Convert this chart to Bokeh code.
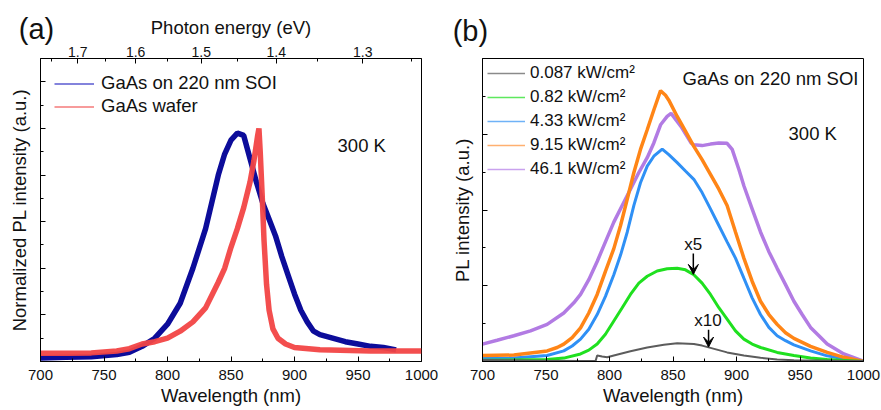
from bokeh.plotting import figure
from bokeh.layouts import row
from bokeh.models import (LinearAxis, FixedTicker, CustomJSTickFormatter, Legend,
                          LegendItem, Label, Arrow, VeeHead, Range1d)
from bokeh.embed import file_html
from bokeh.resources import INLINE

FONT = "Liberation Sans"
TXT = "#111111"

# ---------------- panel (a) data ----------------
soi_wl = [700, 720, 740, 760, 770, 780, 790, 800, 810, 820, 830, 840, 845, 850, 855, 860,
          865, 870, 875, 880, 885, 890, 895, 900, 905, 910, 915, 920, 930, 940, 950, 960, 970, 980]
soi_int = [0.015, 0.018, 0.02, 0.03, 0.04, 0.065, 0.1, 0.16, 0.25, 0.40, 0.57, 0.80, 0.89, 0.95,
           0.98, 0.97, 0.87, 0.77, 0.68, 0.61, 0.54, 0.45, 0.37, 0.29, 0.22, 0.17, 0.13, 0.115,
           0.10, 0.085, 0.075, 0.065, 0.06, 0.05]
wafer_wl = [700, 720, 740, 760, 770, 780, 790, 800, 810, 820, 825, 830, 840, 845, 850, 855, 860,
            865, 868, 871, 872, 873, 874.5, 876, 878, 880, 883, 887, 893, 900, 920, 960, 1000]
wafer_int = [0.035, 0.035, 0.037, 0.045, 0.055, 0.075, 0.085, 0.10, 0.13, 0.17, 0.20, 0.23, 0.34,
             0.40, 0.49, 0.57, 0.66, 0.77, 0.86, 0.97, 1.0, 0.9, 0.72, 0.52, 0.33, 0.22, 0.14,
             0.10, 0.075, 0.06, 0.05, 0.045, 0.045]
energy_ticks = [1.7, 1.6, 1.5, 1.4, 1.3]
energy_minor = [1.75, 1.65, 1.55, 1.45, 1.35, 1.25]
wl_ticks = [700, 750, 800, 850, 900, 950, 1000]
wl_minor = [725, 775, 825, 875, 925, 975]

# ---------------- panel (b) data ----------------
p087_wl = [700, 724.7, 750.9, 777.2, 789, 790.3, 794.2, 798.2, 803.4, 816.5, 829.7, 842.8, 853.3,
           866.4, 872.9, 879.5, 892.6, 905.8, 918.9, 932, 945.2, 1000]
p087_int = [0.04, 0.03, 0.02, 0.01, 0.01, 0.16, 0.13, 0.11, 0.16, 0.27, 0.37, 0.44, 0.48,
            0.46, 0.42, 0.36, 0.24, 0.16, 0.10, 0.05, 0.03, 0.01]
p082_wl = [700, 750.9, 764, 777.2, 783.7, 790.3, 796.8, 803.4, 810, 816.5, 823.1, 829.7, 837.5,
           845.4, 853.3, 859.8, 866.4, 872.9, 879.5, 886.1, 892.6, 899.2, 905.8, 912.3, 918.9,
           932, 945.2, 958.3, 971.4, 1000]
p082_int = [0.03, 0.05, 0.09, 0.20, 0.30, 0.46, 0.72, 1.07, 1.42, 1.77, 2.07, 2.25, 2.39,
            2.45, 2.46, 2.42, 2.29, 2.07, 1.77, 1.42, 1.12, 0.81, 0.59, 0.46, 0.37,
            0.24, 0.16, 0.09, 0.05, 0.0]
p433_wl = [700, 724.7, 750.9, 764, 770.6, 777.2, 783.7, 790.3, 796.8, 803.4, 808.7, 814, 819.2,
           824.4, 829.7, 834.9, 841.5, 846.7, 853.3, 859.8, 866.4, 872.9, 879.5, 886.1, 892.6,
           899.2, 905.8, 912.3, 918.9, 925.5, 932, 938.6, 945.2, 958.3, 971.4, 984.5, 1000]
p433_int = [0.08, 0.09, 0.16, 0.28, 0.41, 0.59, 0.85, 1.24, 1.72, 2.29, 2.81, 3.42, 4.12,
            4.72, 5.16, 5.42, 5.61, 5.46, 5.25, 5.03, 4.81, 4.46, 4.03, 3.59, 3.16,
            2.73, 2.20, 1.68, 1.24, 0.90, 0.68, 0.55, 0.44, 0.28, 0.15, 0.07, 0.0]
p915_wl = [700, 724.7, 750.9, 758.8, 764, 770.6, 777.2, 783.7, 790.3, 796.8, 803.4, 808.7, 814,
           819.2, 824.4, 829.7, 834.9, 840.2, 844.1, 846.7, 853.3, 859.8, 866.4, 872.9, 879.5,
           886.1, 892.6, 899.2, 905.8, 912.3, 918.9, 925.5, 932, 938.6, 945.2, 958.3, 971.4,
           984.5, 1000]
p915_int = [0.16, 0.17, 0.28, 0.37, 0.46, 0.63, 0.89, 1.28, 1.77, 2.38, 2.98, 3.59, 4.29,
            4.99, 5.60, 6.12, 6.64, 7.15, 7.03, 6.90, 6.47, 6.08, 5.68, 5.33, 4.94,
            4.55, 4.12, 3.42, 2.73, 2.12, 1.59, 1.24, 0.98, 0.76, 0.61, 0.40, 0.24,
            0.11, 0.0]
p461_wl = [700, 711.5, 724.7, 737.8, 750.9, 764, 771.9, 777.2, 783.7, 790.3, 796.8, 803.4, 810,
           816.5, 823.1, 829.7, 834.9, 840.2, 845.4, 848.5, 856.4, 864.2, 866.4, 872.9, 879.5,
           886.1, 892.6, 896.6, 901.9, 905.8, 912.3, 918.9, 925.5, 932, 938.6, 945.2, 951.7,
           958.3, 964.9, 971.4, 984.5, 1000]
p461_int = [0.46, 0.56, 0.68, 0.81, 0.98, 1.28, 1.55, 1.77, 2.16, 2.64, 3.16, 3.68, 4.12,
            4.55, 4.99, 5.38, 5.77, 6.25, 6.47, 6.55, 6.20, 5.77, 5.72, 5.70, 5.74,
            5.77, 5.76, 5.60, 5.07, 4.64, 4.03, 3.42, 2.90, 2.46, 2.03, 1.59, 1.24,
            0.90, 0.68, 0.46, 0.20, 0.01]
power_labels = ["0.087 kW/cm²", "0.82 kW/cm²", "4.33 kW/cm²", "9.15 kW/cm²", "46.1 kW/cm²"]

NBSP = "\u00a0"


def base_style(p):
    p.xgrid.visible = False
    p.ygrid.visible = False
    p.outline_line_color = "black"
    p.outline_line_width = 1
    p.background_fill_color = "white"
    p.border_fill_color = "white"
    for ax in p.axis:
        ax.axis_line_color = "black"
        ax.major_tick_in = 5
        ax.major_tick_out = 0
        ax.minor_tick_in = 3
        ax.minor_tick_out = 0
        ax.major_tick_line_color = "black"
        ax.minor_tick_line_color = "black"
        ax.major_label_text_font = FONT
        ax.major_label_text_font_size = "15px"
        ax.major_label_text_color = TXT
        ax.axis_label_text_font = FONT
        ax.axis_label_text_font_size = "18.5px"
        ax.axis_label_text_font_style = "normal"
        ax.axis_label_text_color = TXT


def panel_letter_axis(text, standoff):
    ax = LinearAxis(ticker=FixedTicker(ticks=[700], minor_ticks=[]),
                    formatter=CustomJSTickFormatter(code="return %r;" % text))
    ax.axis_line_color = None
    ax.major_tick_line_color = None
    ax.minor_tick_line_color = None
    ax.major_tick_in = 0
    ax.major_tick_out = 0
    ax.major_label_standoff = standoff
    ax.major_label_text_font = FONT
    ax.major_label_text_font_size = "29px"
    ax.major_label_text_color = TXT
    return ax


blank = CustomJSTickFormatter(code="return '';")

# ================= panel (a) =================
pa = figure(width=440, height=410, x_range=Range1d(700, 1000), y_range=Range1d(0, 1.3),
            output_backend="svg", toolbar_location=None,
            min_border_left=40, min_border_right=19, min_border_top=58, min_border_bottom=47,
            x_axis_label="Wavelength (nm)", y_axis_label="Normalized PL intensity (a.u.)")
top = LinearAxis(axis_label="Photon energy (eV)",
                 ticker=FixedTicker(ticks=[1239.84 / e for e in energy_ticks],
                                    minor_ticks=[1239.84 / e for e in energy_minor]),
                 formatter=CustomJSTickFormatter(code="return (1239.84/tick).toFixed(1);"))
pa.add_layout(top, "above")
base_style(pa)
top.major_label_text_font_size = "14px"
top.major_label_standoff = 2
top.axis_label_standoff = 6
pa.add_layout(panel_letter_axis("(a)" + NBSP, -31), "above")

bot_a = pa.below[0]
bot_a.ticker = FixedTicker(ticks=wl_ticks, minor_ticks=wl_minor)
bot_a.major_label_standoff = 8
bot_a.axis_label_standoff = 2
pa.yaxis.ticker = FixedTicker(ticks=[0, 0.2, 0.4, 0.6, 0.8, 1.0, 1.2],
                              minor_ticks=[0.1, 0.3, 0.5, 0.7, 0.9, 1.1])
pa.yaxis.formatter = blank
pa.yaxis.major_label_standoff = 0
pa.yaxis.axis_label_standoff = 11

pa.line(soi_wl, soi_int, line_color="#0c0c9a", line_width=5.5)
pa.line(wafer_wl, wafer_int, line_color="#f24545", line_width=5.5, line_alpha=0.95)

la1 = pa.line([600, 610], [-1, -1], line_color="#5a5ad0", line_width=1.5)
la2 = pa.line([600, 610], [-1, -1], line_color="#f57a7a", line_width=1.5)
leg_a = Legend(items=[LegendItem(label="GaAs on 220 nm SOI", renderers=[la1]),
                      LegendItem(label="GaAs wafer", renderers=[la2])],
               location="top_left", margin=6, padding=8, spacing=1,
               glyph_width=40, glyph_height=21, label_height=21, label_standoff=7,
               label_text_font=FONT, label_text_font_size="18.5px", label_text_color=TXT,
               border_line_alpha=0, background_fill_alpha=0)
pa.add_layout(leg_a)
pa.add_layout(Label(x=933.9, y=0.928, text="300 K", text_font=FONT, text_font_size="18.5px",
                    text_color=TXT, text_baseline="middle", text_align="left"))

# ================= panel (b) =================
pb = figure(width=441, height=410, x_range=Range1d(700, 1000), y_range=Range1d(0, 8),
            output_backend="svg", toolbar_location=None,
            min_border_left=42, min_border_right=18, min_border_top=55, min_border_bottom=49,
            x_axis_label="Wavelength (nm)", y_axis_label="PL intensity (a.u.)")
base_style(pb)
bot_b = pb.below[0]
bot_b.ticker = FixedTicker(ticks=wl_ticks, minor_ticks=wl_minor)
bot_b.major_label_standoff = 8
bot_b.axis_label_standoff = 2
pb.add_layout(panel_letter_axis("(b)" + NBSP * 3, 12), "above")
pb.yaxis.ticker = FixedTicker(ticks=[0, 2, 4, 6, 8], minor_ticks=[1, 3, 5, 7])
pb.yaxis.formatter = blank
pb.yaxis.major_label_standoff = 0
pb.yaxis.axis_label_standoff = 10

pb.line(p461_wl, p461_int, line_color="#b27be3", line_width=3.5)
pb.line(p433_wl, p433_int, line_color="#2f90f5", line_width=3)
pb.line(p915_wl, p915_int, line_color="#ff8516", line_width=3.5)
pb.line(p082_wl, p082_int, line_color="#1fe01f", line_width=3)
pb.line(p087_wl, p087_int, line_color="#5c5c5c", line_width=2)

legend_colors = ["#8a8a8a", "#5ee85e", "#6fb2f7", "#ffb070", "#c9a2ee"]
items = []
for lab, col in zip(power_labels, legend_colors):
    r = pb.line([600, 610], [-1, -1], line_color=col, line_width=1.5)
    items.append(LegendItem(label=lab, renderers=[r]))
leg_b = Legend(items=items, location="top_left", margin=0, padding=5, spacing=4,
               glyph_width=38, glyph_height=20, label_height=20, label_standoff=5,
               label_text_font=FONT, label_text_font_size="17px", label_text_color=TXT,
               border_line_alpha=0, background_fill_alpha=0)
pb.add_layout(leg_b)

pb.add_layout(Label(x=996, y=7.47, text="GaAs on 220 nm SOI", text_font=FONT,
                    text_font_size="18.5px", text_color=TXT, text_baseline="middle",
                    text_align="right"))
pb.add_layout(Label(x=941, y=6.03, text="300 K", text_font=FONT, text_font_size="18.5px",
                    text_color=TXT, text_baseline="middle", text_align="left"))
pb.add_layout(Label(x=866, y=3.1, text="x5", text_font=FONT, text_font_size="17px",
                    text_color=TXT, text_baseline="middle", text_align="center"))
pb.add_layout(Label(x=877.5, y=1.08, text="x10", text_font=FONT, text_font_size="17px",
                    text_color=TXT, text_baseline="middle", text_align="center"))
pb.add_layout(Arrow(end=VeeHead(size=10, fill_color="black", line_color="black"),
                    x_start=866, y_start=2.85, x_end=866, y_end=2.3, line_width=1.5))
pb.add_layout(Arrow(end=VeeHead(size=10, fill_color="black", line_color="black"),
                    x_start=878, y_start=0.84, x_end=878, y_end=0.38, line_width=1.5))

layout = row(pa, pb)
open("out.html", "w").write(file_html(layout, INLINE))
